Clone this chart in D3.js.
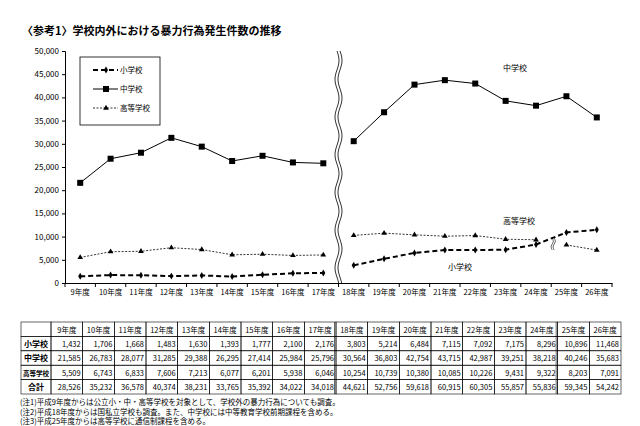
<!DOCTYPE html>
<html><head><meta charset="utf-8">
<script src="https://cdn.jsdelivr.net/npm/d3@7"></script>
<style>body{margin:0;background:#fff}text{font-family:"Noto Sans CJK JP",sans-serif}</style>
</head><body><svg id="c" width="640" height="426"></svg>
<script>
const years = ['9年度','10年度','11年度','12年度','13年度','14年度','15年度','16年度','17年度','18年度','19年度','20年度','21年度','22年度','23年度','24年度','25年度','26年度'];
const elementary = [1432,1706,1668,1483,1630,1393,1777,2100,2176,3803,5214,6484,7115,7092,7175,8296,10896,11468];
const juniorHigh = [21585,26783,28077,31285,29388,26295,27414,25984,25796,30564,36803,42754,43715,42987,39251,38218,40246,35683];
const highSchool = [5509,6743,6833,7606,7213,6077,6201,5938,6046,10254,10739,10380,10085,10226,9431,9322,8203,7091];
const totals = [28526,35232,36578,40374,38231,33765,35392,34022,34018,44621,52756,59618,60915,60305,55857,55836,59345,54242];
const yTicks = [0,5000,10000,15000,20000,25000,30000,35000,40000,45000,50000];
const notes = ['(注1)平成9年度からは公立小・中・高等学校を対象として、学校外の暴力行為についても調査。',
  '(注2)平成18年度からは国私立学校も調査。また、中学校には中等教育学校前期課程を含める。',
  '(注3)平成25年度からは高等学校に通信制課程を含める。'];

const svg = d3.select('#c');
const fmt = d3.format(',');
const x = d3.scaleBand().domain(years).range([65, 612]);
const y = d3.scaleLinear().domain([0, 50000]).range([283, 51]);
const cx = d => x(d) + x.bandwidth() / 2;

svg.append('text').attr('x', 22).attr('y', 35).attr('font-size', 11).attr('font-weight', 'bold')
  .text('〈参考1〉学校内外における暴力行為発生件数の推移');

const ya = svg.append('g').attr('transform', 'translate(65,0)')
  .call(d3.axisLeft(y).tickValues(yTicks).tickSize(3).tickFormat(fmt));
ya.selectAll('text').attr('font-size', 8).attr('font-family', 'Liberation Sans, Arial');
const xa = svg.append('g').attr('transform', 'translate(0,283)')
  .call(d3.axisBottom(x).tickSize(0).tickPadding(7));
xa.selectAll('text').attr('font-size', 7.5);
xa.selectAll('.b').data(years.concat([''])).enter().append('line')
  .attr('x1', (d, i) => 65 + i * x.bandwidth()).attr('x2', (d, i) => 65 + i * x.bandwidth())
  .attr('y1', 0).attr('y2', 4).attr('stroke', '#000');
svg.selectAll('.domain').attr('stroke', '#000');

const line = d3.line().x(d => cx(d.k)).y(d => y(d.v));
const seg = (vals, a, b) => vals.slice(a, b).map((v, i) => ({ k: years[a + i], v }));
function series(vals, parts, style, marker) {
  parts.forEach(([a, b]) => svg.append('path').attr('d', line(seg(vals, a, b))).attr('fill', 'none')
    .attr('stroke', '#000').attr('stroke-width', style.w).attr('stroke-dasharray', style.dash));
  vals.forEach((v, i) => marker(cx(years[i]), y(v)));
}
const sq = (px, py) => svg.append('rect').attr('x', px - 3).attr('y', py - 3).attr('width', 6).attr('height', 6);
const tri = (px, py) => svg.append('path').attr('d', d3.symbol(d3.symbolTriangle, 14)()).attr('transform', `translate(${px},${py})`);
const dia = (px, py) => svg.append('path').attr('d', d3.symbol(d3.symbolDiamond, 14)()).attr('transform', `translate(${px},${py})`);

series(juniorHigh, [[0, 9], [9, 18]], { w: 1, dash: null }, sq);
series(highSchool, [[0, 9], [9, 16], [16, 18]], { w: 0.8, dash: '2,1.5' }, tri);
series(elementary, [[0, 9], [9, 18]], { w: 2, dash: '5,3' }, dia);

// break marks
const wave = [];
for (let py = 51; py <= 283; py += 2) wave.push([cx(years[8]) + x.bandwidth() / 2 + 2 * Math.sin((py - 51) / 6), py]);
svg.append('rect').attr('x', 333).attr('y', 50).attr('width', 10).attr('height', 233).attr('fill', '#fff');
[-1.5, 1.5].forEach(o => svg.append('path').attr('d', d3.line()(wave.map(p => [p[0] + o, p[1]]))).attr('fill', 'none').attr('stroke', '#000').attr('stroke-width', 0.8));
const sx = (cx(years[15]) + cx(years[16])) / 2 + 2;
[-1, 1].forEach(o => svg.append('path').attr('d', d3.line().curve(d3.curveBasis)([[sx + o, 238], [sx + 2 + o, 242], [sx - 2 + o, 246], [sx + o, 250]]))
  .attr('fill', 'none').attr('stroke', '#000').attr('stroke-width', 0.6));

// legend
svg.append('rect').attr('x', 80).attr('y', 57).attr('width', 80).attr('height', 68).attr('fill', '#fff').attr('stroke', '#000').attr('stroke-width', 0.8);
const leg = [['小学校', 2, '5,3', dia], ['中学校', 1, null, sq], ['高等学校', 0.8, '2,1.5', tri]];
leg.forEach((l, i) => {
  const ly = 70 + i * 19;
  svg.append('line').attr('x1', 93).attr('x2', 118).attr('y1', ly).attr('y2', ly).attr('stroke', '#000').attr('stroke-width', l[1]).attr('stroke-dasharray', l[2]);
  l[3](106, ly);
  svg.append('text').attr('x', 120).attr('y', ly + 3).attr('font-size', 7.5).text(l[0]);
});
svg.append('text').attr('x', 503).attr('y', 71).attr('font-size', 8).text('中学校');
svg.append('text').attr('x', 503).attr('y', 224).attr('font-size', 8).text('高等学校');
svg.append('text').attr('x', 448).attr('y', 270).attr('font-size', 8).text('小学校');

// table
const rows = [['', years], ['小学校', elementary.map(fmt)], ['中学校', juniorHigh.map(fmt)], ['高等学校', highSchool.map(fmt)], ['合計', totals.map(fmt)]];
const tx = d3.scaleBand().domain(years).range([51, 621]);
const ty = d3.scaleBand().domain(d3.range(rows.length)).range([322, 394]);
const t = svg.append('g');
rows.forEach((r, i) => {
  t.append('rect').attr('x', 21).attr('y', ty(i)).attr('width', 30).attr('height', ty.bandwidth()).attr('fill', 'none').attr('stroke', '#000').attr('stroke-width', 0.6);
  t.append('text').attr('x', 36).attr('y', ty(i) + 10.5).attr('text-anchor', 'middle').attr('font-size', i === 3 ? 6.5 : 8).attr('font-weight', 'bold').text(r[0]);
  r[1].forEach((v, j) => {
    t.append('rect').attr('x', tx(years[j])).attr('y', ty(i)).attr('width', tx.bandwidth()).attr('height', ty.bandwidth()).attr('fill', 'none').attr('stroke', '#000').attr('stroke-width', 0.6);
    t.append('text').attr('x', i === 0 ? tx(years[j]) + tx.bandwidth() / 2 : tx(years[j]) + tx.bandwidth() - 2).attr('y', ty(i) + 10.5)
      .attr('text-anchor', i === 0 ? 'middle' : 'end').attr('font-size', 7.5).attr('font-family', i === 0 ? null : 'Liberation Sans Narrow, Liberation Sans').text(v);
  });
});
[tx(years[9]), tx(years[16])].forEach((lx, k) => t.append('line').attr('x1', lx - 1.5).attr('x2', lx - 1.5)
  .attr('y1', k ? ty(3) : 322).attr('y2', k ? ty(4) : 394).attr('stroke', '#000').attr('stroke-width', 0.6));
t.append('line').attr('x1', tx(years[16]) - 1.5).attr('x2', tx(years[16]) - 1.5).attr('y1', 322).attr('y2', ty(3)).attr('stroke', '#000').attr('stroke-width', 0.6);
t.append('line').attr('x1', tx(years[16]) - 1.5).attr('x2', tx(years[16]) - 1.5).attr('y1', ty(4)).attr('y2', 394).attr('stroke', '#000').attr('stroke-width', 0.6);
notes.forEach((n, i) => svg.append('text').attr('x', 20).attr('y', 405 + i * 9.5).attr('font-size', 7.5).text(n));
</script></body></html>
